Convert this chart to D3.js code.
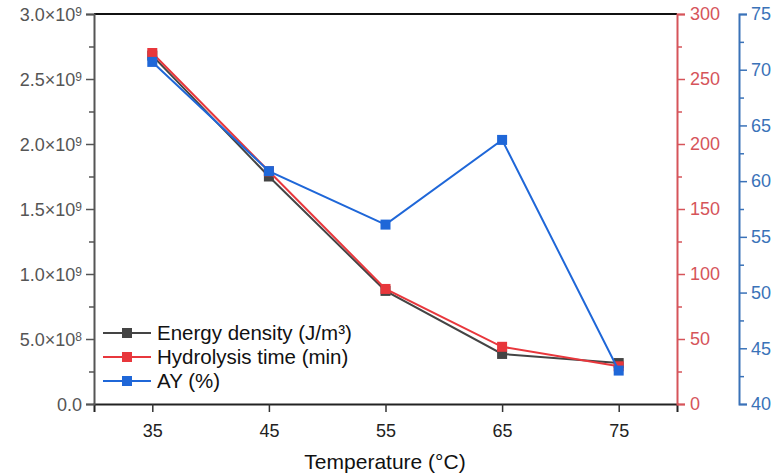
<!DOCTYPE html>
<html><head><meta charset="utf-8">
<script src="https://cdn.jsdelivr.net/npm/d3@7"></script>
<style>body{margin:0;background:#fff;} svg{display:block;font-family:"Liberation Sans",Arial,sans-serif;}</style>
</head><body>
<svg id="c" width="772" height="476"></svg>
<script>
const temps = [35, 45, 55, 65, 75];
const energyDensity = [2.68e9, 1.75e9, 0.87e9, 0.385e9, 0.315e9];
const hydrolysisTime = [270, 179, 88.5, 44, 29];
const ayPercent = [70.7, 60.9, 56.1, 63.7, 43.0];
const xTicks = [35, 45, 55, 65, 75];
const leftTicks = [0, 5e8, 1e9, 1.5e9, 2e9, 2.5e9, 3e9];
const leftTickLabels = ["0.0", "5.0×10|8", "1.0×10|9", "1.5×10|9", "2.0×10|9", "2.5×10|9", "3.0×10|9"];
const redTicks = [0, 50, 100, 150, 200, 250, 300];
const blueTicks = [40, 45, 50, 55, 60, 65, 70, 75];
const seriesNames = ["Energy density (J/m³)", "Hydrolysis time (min)", "AY (%)"];

const cGray = "#444444", cRed = "#e8373c", cBlue = "#1f67d8";
const axGray = "#555555", axRed = "#d6545a", axBlue = "#3a72b8";
const FF = "Liberation Sans, Arial, sans-serif";
const svg = d3.select("#c");
const L = 94, R = 677, T = 14, B = 404, BX = 739;

const x = d3.scaleLinear().domain([30, 80]).range([L, R]);
const yL = d3.scaleLinear().domain([0, 3e9]).range([B, T]);
const yR = d3.scaleLinear().domain([0, 300]).range([B, T]);
const yB = d3.scaleLinear().domain([40, 75]).range([B, T]);

// top border
svg.append("line").attr("x1", L).attr("x2", R).attr("y1", T).attr("y2", T)
  .attr("stroke", "#111").attr("stroke-width", 2);

// Bottom axis
const gx = svg.append("g").attr("transform", `translate(0,${B})`)
  .call(d3.axisBottom(x).tickValues(xTicks).tickSize(8).tickPadding(12).tickFormat(d3.format("d")));
gx.select(".domain").attr("stroke", "#222").attr("stroke-width", 2);
gx.selectAll(".tick line").attr("stroke", "#333").attr("stroke-width", 1.5);
gx.selectAll(".tick text").attr("font-size", 18).attr("fill", "#222").attr("font-family", FF);

// Left axis
const minorL = d3.range(2.5e8, 3e9, 5e8);
svg.append("g").attr("transform", `translate(${L},0)`)
  .call(d3.axisLeft(yL).tickValues(minorL).tickSize(5).tickFormat(""))
  .call(g => { g.select(".domain").remove(); g.selectAll(".tick line").attr("stroke", axGray).attr("stroke-width", 1.5); });
const gl = svg.append("g").attr("transform", `translate(${L},0)`)
  .call(d3.axisLeft(yL).tickValues(leftTicks).tickSize(8).tickPadding(4).tickFormat(""));
gl.select(".domain").attr("stroke", axGray).attr("stroke-width", 2);
gl.selectAll(".tick line").attr("stroke", axGray).attr("stroke-width", 1.5);
gl.selectAll(".tick").each(function(d, i) {
  const parts = leftTickLabels[i].split("|");
  const t = d3.select(this).append("text").attr("x", -12).attr("dy", "0.36em")
    .attr("text-anchor", "end").attr("fill", axGray).attr("font-size", 18).attr("font-family", FF);
  t.append("tspan").text(parts[0]);
  if (parts[1]) t.append("tspan").attr("dy", "-0.45em").attr("font-size", 12).text(parts[1]);
});

// Red axis
svg.append("g").attr("transform", `translate(${R},0)`)
  .call(d3.axisRight(yR).tickValues(d3.range(25, 300, 50)).tickSize(5).tickFormat(""))
  .call(g => { g.select(".domain").remove(); g.selectAll(".tick line").attr("stroke", axRed).attr("stroke-width", 1.5); });
const gr = svg.append("g").attr("transform", `translate(${R},0)`)
  .call(d3.axisRight(yR).tickValues(redTicks).tickSize(8).tickPadding(5).tickFormat(d3.format("d")));
gr.select(".domain").attr("stroke", axRed).attr("stroke-width", 2);
gr.selectAll(".tick line").attr("stroke", axRed).attr("stroke-width", 1.5);
gr.selectAll(".tick text").attr("fill", axRed).attr("font-size", 18).attr("font-family", FF);

// Blue axis
svg.append("g").attr("transform", `translate(${BX},0)`)
  .call(d3.axisRight(yB).tickValues(d3.range(42.5, 75, 5)).tickSize(5).tickFormat(""))
  .call(g => { g.select(".domain").remove(); g.selectAll(".tick line").attr("stroke", axBlue).attr("stroke-width", 1.5); });
const gb = svg.append("g").attr("transform", `translate(${BX},0)`)
  .call(d3.axisRight(yB).tickValues(blueTicks).tickSize(8).tickPadding(4).tickFormat(d3.format("d")));
gb.select(".domain").attr("stroke", axBlue).attr("stroke-width", 2);
gb.selectAll(".tick line").attr("stroke", axBlue).attr("stroke-width", 1.5);
gb.selectAll(".tick text").attr("fill", axBlue).attr("font-size", 18).attr("font-family", FF);

// Series
const series = [
  {vals: energyDensity, y: yL, color: cGray},
  {vals: hydrolysisTime, y: yR, color: cRed},
  {vals: ayPercent, y: yB, color: cBlue}
];
series.forEach(s => {
  const pts = temps.map((t, i) => [x(t), s.y(s.vals[i])]);
  svg.append("path").attr("d", d3.line()(pts)).attr("fill", "none")
    .attr("stroke", s.color).attr("stroke-width", 2);
  svg.selectAll(null).data(pts).enter().append("rect")
    .attr("x", d => d[0] - 5).attr("y", d => d[1] - 5).attr("width", 10).attr("height", 10)
    .attr("fill", s.color);
});

// Legend
const lg = svg.append("g");
seriesNames.forEach((n, i) => {
  const yy = 333 + i * 24;
  lg.append("line").attr("x1", 103).attr("x2", 151).attr("y1", yy).attr("y2", yy)
    .attr("stroke", series[i].color).attr("stroke-width", 2);
  lg.append("rect").attr("x", 122).attr("y", yy - 5).attr("width", 10).attr("height", 10).attr("fill", series[i].color);
  lg.append("text").attr("x", 157).attr("y", yy).attr("dy", "0.36em").attr("font-size", 20.5)
    .attr("fill", "#111").text(n);
});

// x title
svg.append("text").attr("x", 385).attr("y", 469).attr("text-anchor", "middle")
  .attr("font-size", 21).attr("fill", "#111").text("Temperature (°C)");
</script>
</body></html>
